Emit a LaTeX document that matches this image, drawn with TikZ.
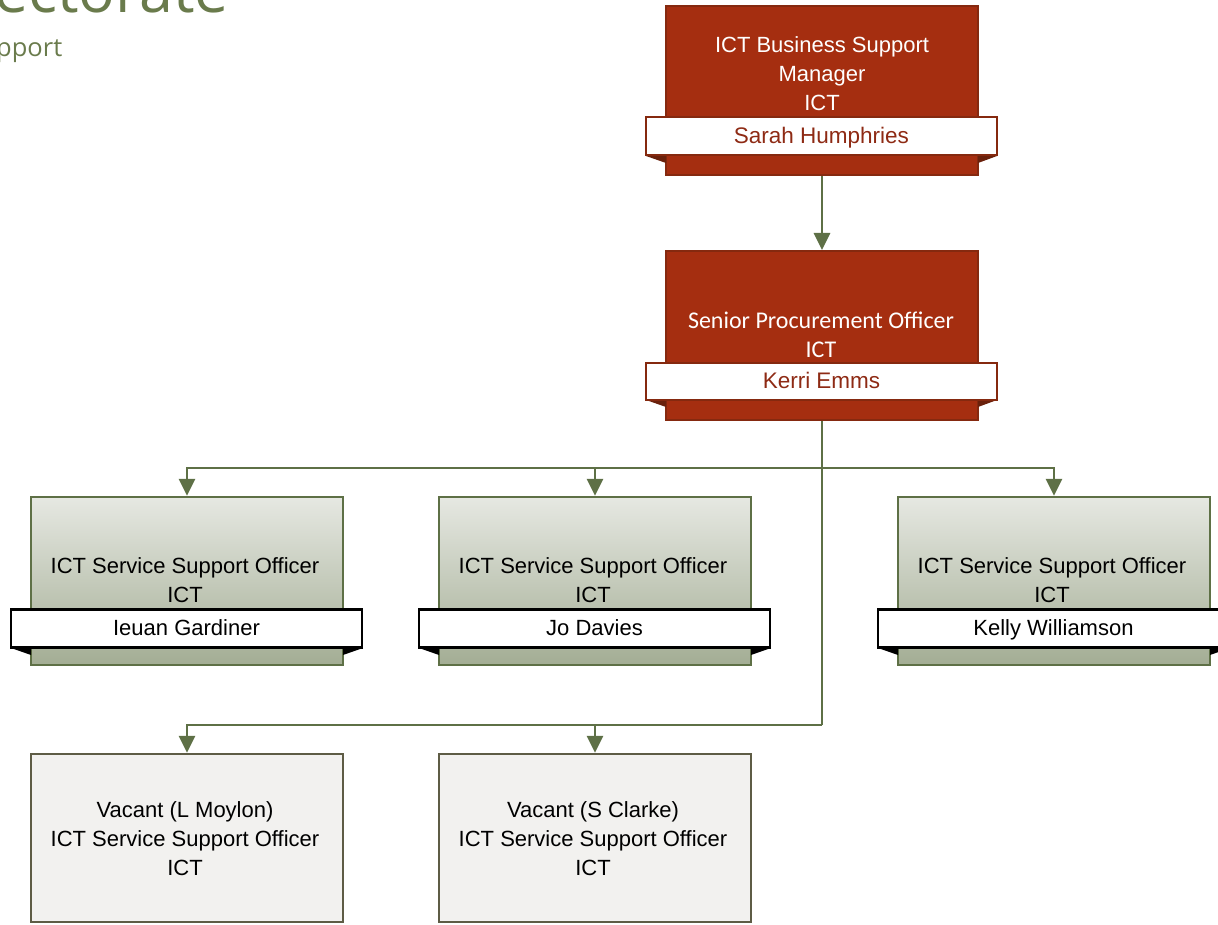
\documentclass[tikz,border=0pt]{standalone}
\usepackage{fontspec}
\setmainfont{Liberation Sans}
\newfontfamily\calib{Carlito}
\newfontfamily\titlefont{Open Sans}
\usetikzlibrary{arrows.meta}
\definecolor{redfill}{HTML}{A52E10}
\definecolor{redline}{HTML}{85290F}
\definecolor{redtext}{HTML}{8E2A14}
\definecolor{greenline}{HTML}{5E7046}
\definecolor{gtop}{HTML}{E6E8E2}
\definecolor{gbot}{HTML}{A3AD94}
\definecolor{vacfill}{HTML}{F2F1EF}
\definecolor{vacline}{HTML}{5E5C45}
\definecolor{titlecol}{HTML}{6A7B4C}
\tikzset{
  redbox/.style={draw=redline, fill=redfill, line width=2pt, minimum width=312pt, minimum height=169pt, inner sep=0pt},
  greenbox/.style={draw=greenline, top color=gtop, bottom color=gbot, line width=2.5pt, minimum width=312pt, minimum height=168pt, inner sep=0pt},
  vacbox/.style={draw=vacline, fill=vacfill, line width=2.5pt, minimum width=312pt, minimum height=168pt, inner sep=0pt},
  redbanner/.style={draw=redline, fill=white, line width=2pt, minimum width=351pt, minimum height=38pt, inner sep=0pt, text height=17.5pt, text depth=3pt, text=redtext, font=\fontsize{22.5}{26}\selectfont},
  blackbanner/.style={draw=black, fill=white, line width=2.5pt, minimum width=351pt, minimum height=38pt, inner sep=0pt, text height=17.5pt, text depth=3pt, text=black, font=\fontsize{22}{26}\selectfont},
  txt/.style={align=center, inner sep=0pt, font=\fontsize{22}{29}\selectfont},
  conn/.style={draw=greenline, line width=2.8pt},
  arr/.style={conn, -{Triangle[width=16pt,length=17pt]}},
}
\begin{document}
\begin{tikzpicture}[x=1pt,y=-1pt]
\useasboundingbox (0,0) rectangle (1218,925);
\clip (0,0) rectangle (1218,925);
% title fragments
\node[anchor=base west, inner sep=0pt, text=titlecol, font=\titlefont\fontsize{61}{63}\selectfont] (title) at (-6,13) {ectorate};
\node[anchor=base west, inner sep=0pt, text=titlecol, font=\titlefont\fontsize{25.5}{28}\selectfont] (subtitle) at (-4,57) {pport};
% top box
\node[redbox] (b1) at (822,90.5) {};
\fill[redline!80!black] (646,156) -- (666,156) -- (666,163) -- cycle;
\fill[redline!80!black] (997,156) -- (978,156) -- (978,163) -- cycle;
\node[redbanner] (n1) at (821.5,136.5) {Sarah Humphries};
\node[txt, text=white] (t1) at (822,74) {ICT Business Support\\Manager\\ICT};
% second box
\node[redbox] (b2) at (822,335.5) {};
\fill[redline!80!black] (646,400) -- (666,400) -- (666,407) -- cycle;
\fill[redline!80!black] (997,400) -- (978,400) -- (978,407) -- cycle;
\node[redbanner, minimum height=37pt] (n2) at (821.5,381.5) {Kerri Emms};
\node[txt, text=white, font=\calib\fontsize{24}{28.5}\selectfont] (t2) at (821,335) {Senior Procurement Officer\\ICT};
% green boxes
\foreach \nm/\cx/\name in {g1/187/Ieuan Gardiner, g2/595/Jo Davies, g3/1054/Kelly Williamson}{
  \node[greenbox] (\nm) at (\cx,581) {};
  \fill[black] (\cx-176,648) -- (\cx-156,648) -- (\cx-156,655) -- cycle;
  \fill[black] (\cx+176,648) -- (\cx+156,648) -- (\cx+156,655) -- cycle;
  \node[blackbanner] (\nm n) at (\cx-0.5,628.5) {\name};
  \node[txt] (\nm t) at (\cx-2,580) {ICT Service Support Officer\\ICT};
}
% vacant boxes
\node[vacbox] (v1) at (187,838) {};
\node[txt] (v1t) at (185,839) {Vacant (L Moylon)\\ICT Service Support Officer\\ICT};
\node[vacbox] (v2) at (595,838) {};
\node[txt] (v2t) at (593,839) {Vacant (S Clarke)\\ICT Service Support Officer\\ICT};
% connectors
\draw[arr] (b1.south) -- (b2.north);
\coordinate (j1) at (822,468);
\coordinate (j2) at (822,725);
\draw[conn] (b2.south) -- (j1) -- (j2);
\draw[arr] (j1) -| (g1.north);
\draw[arr] (j1) -| (g2.north);
\draw[arr] (j1) -| (g3.north);
\draw[arr] (j2) -| (v1.north);
\draw[arr] (j2) -| (v2.north);
\end{tikzpicture}
\end{document}
